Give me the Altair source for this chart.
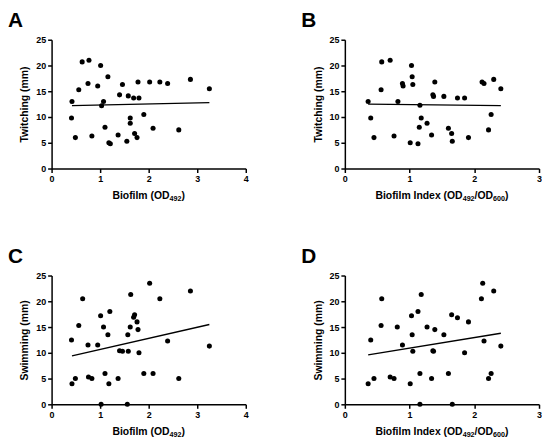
import altair as alt
import pandas as pd

# Panel A: Biofilm (OD492) vs Twitching
A_x = [0.63,0.77,1.01,1.16,0.75,0.95,0.56,1.46,1.78,2.02,2.23,2.39,2.86,3.25,0.42,1.07,1.03,1.40,1.58,1.69,1.80,0.41,1.62,1.62,1.90,1.10,2.09,2.62,0.49,0.83,1.37,1.71,1.76,1.18,1.21,1.55]
A_y = [20.7,21.0,20.0,17.8,16.5,16.0,15.3,16.3,16.8,16.8,16.8,16.5,17.3,15.5,13.0,13.0,12.2,14.3,14.1,13.7,13.7,9.8,9.8,8.8,10.5,8.0,7.8,7.5,6.0,6.3,6.5,6.8,6.0,5.0,4.8,5.3]
A_fit_x = [0.42, 3.25]
A_fit_y = [12.2, 12.8]
# Panel B: Biofilm Index vs Twitching
B_x = [0.57,0.70,1.03,1.04,0.89,0.90,1.05,0.56,1.39,2.12,2.15,2.30,2.41,0.36,0.82,1.16,1.36,1.37,1.53,1.74,1.85,0.40,1.18,1.27,1.15,2.26,1.60,2.22,0.45,0.76,1.34,1.65,1.91,1.01,1.13,1.66]
B_y = [20.7,21.0,20.0,17.8,16.5,16.0,16.3,15.3,16.8,16.8,16.5,17.3,15.5,13.0,13.0,12.3,14.3,14.0,14.0,13.7,13.7,9.8,9.8,8.8,8.0,10.5,7.8,7.5,6.0,6.3,6.5,6.8,6.0,5.0,4.8,5.3]
B_fit_x = [0.36, 2.41]
B_fit_y = [12.5, 12.2]
# Panel C: Biofilm (OD492) vs Swimming
C_x = [2.02,2.86,1.63,0.64,2.23,1.20,1.01,1.71,1.69,1.76,0.56,1.07,1.62,1.78,1.16,1.57,0.41,2.39,0.75,0.95,3.25,1.40,1.46,1.58,1.80,1.90,2.09,1.10,0.76,0.83,0.49,1.37,2.62,0.42,1.18,1.02,1.56]
C_y = [23.5,22.0,21.3,20.5,20.5,18.0,17.2,17.4,16.9,16.0,15.3,15.0,15.0,14.5,13.5,13.5,12.5,12.3,11.5,11.5,11.3,10.4,10.3,10.3,10.0,6.0,6.0,6.0,5.3,5.0,5.0,5.0,5.0,4.0,4.0,0.0,0.0]
C_fit_x = [0.42, 3.25]
C_fit_y = [9.4, 15.5]
# Panel D: Biofilm Index vs Swimming
D_x = [2.13,2.30,1.18,0.57,2.11,1.13,1.03,1.65,1.74,1.91,0.56,0.81,1.27,1.39,1.04,1.53,0.40,2.15,0.89,2.41,1.05,1.36,1.37,1.85,1.16,1.60,2.26,0.70,0.76,0.45,1.34,2.22,0.36,1.01,1.16,1.66]
D_y = [23.5,22.0,21.3,20.5,20.5,18.0,17.2,17.4,16.8,16.0,15.3,15.0,15.0,14.5,13.5,13.5,12.5,12.3,11.5,11.3,10.3,10.4,10.3,10.0,6.0,6.0,6.0,5.3,5.0,5.0,5.0,5.0,4.0,4.0,0.0,0.0]
D_fit_x = [0.36, 2.41]
D_fit_y = [9.6, 13.8]

Y_TICKS = [0, 5, 10, 15, 20, 25]
FONT = "Liberation Sans"
W, H = 196, 130
FS_TITLE, FS_SUB = 10.5, 7.2

# Arial/Liberation Sans Bold advance widths (per em)
ADV = {"B": .722, "i": .278, "o": .611, "f": .333, "l": .278, "m": .889, " ": .278,
       "(": .333, ")": .333, "O": .778, "D": .722, "I": .278, "n": .611, "d": .611,
       "e": .556, "x": .556, "/": .278}


def text_width(s, fs):
    return sum(ADV.get(c, .556) for c in s) * fs


def title_marks(segments):
    sizes = [FS_SUB if sub else FS_TITLE for _, sub in segments]
    total = sum(text_width(t, fs) for (t, _), fs in zip(segments, sizes))
    cur = W / 2 - total / 2
    out = []
    for (t, sub), fs in zip(segments, sizes):
        out.append(alt.Chart(pd.DataFrame({"t": [t]})).mark_text(
            font=FONT, fontSize=fs, fontWeight="bold", align="left",
            baseline="alphabetic", color="black").encode(
            x=alt.value(cur), y=alt.value(H + 31 + (2.2 if sub else 0)), text="t:N"))
        cur += text_width(t, fs)
    return out


def panel(xs, ys, fx, fy, letter, xsegs, ytitle, xmax):
    df = pd.DataFrame({"x": xs, "y": ys})
    xvals = list(range(xmax + 1))
    xenc = alt.X("x:Q", scale=alt.Scale(domain=[0, xmax], nice=False),
                 axis=alt.Axis(values=xvals, tickCount=len(xvals) + 2,
                               title=None, format="d", labelOverlap=False))
    yenc = alt.Y("y:Q", scale=alt.Scale(domain=[0, 25], nice=False),
                 axis=alt.Axis(values=Y_TICKS, tickCount=len(Y_TICKS) + 2, format="d",
                               title=ytitle, labelOverlap=False))
    pts = alt.Chart(df).mark_circle(size=26, color="black", opacity=1).encode(x=xenc, y=yenc)
    line = alt.Chart(pd.DataFrame({"x": fx, "y": fy})).mark_line(
        color="black", strokeWidth=1.4).encode(x=xenc, y=yenc)
    lab = alt.Chart(pd.DataFrame({"t": [letter]})).mark_text(
        font=FONT, fontSize=21, fontWeight="bold", align="left",
        baseline="top", color="black").encode(
        x=alt.value(-44), y=alt.value(-30), text="t:N")
    return alt.layer(pts, line, lab, *title_marks(xsegs)).properties(width=W, height=H)


t_twitch = "Twitching (mm)"
t_swim = "Swimming (mm)"
x1 = [("Biofilm (OD", False), ("492", True), (")", False)]
x2 = [("Biofilm Index (OD", False), ("492", True), ("/OD", False), ("600", True), (")", False)]

pA = panel(A_x, A_y, A_fit_x, A_fit_y, "A", x1, t_twitch, 4)
pB = panel(B_x, B_y, B_fit_x, B_fit_y, "B", x2, t_twitch, 3)
pC = panel(C_x, C_y, C_fit_x, C_fit_y, "C", x1, t_swim, 4)
pD = panel(D_x, D_y, D_fit_x, D_fit_y, "D", x2, t_swim, 3)

chart = alt.vconcat(
    alt.hconcat(pA, pB, spacing=53),
    alt.hconcat(pC, pD, spacing=53),
    spacing=43,
).properties(padding=0, background="white").configure_view(stroke=None).configure_axis(
    domainColor="black", domainWidth=1.5, tickColor="black", tickWidth=1.5, tickSize=4,
    grid=False, labelFont=FONT, labelFontSize=9, labelFontWeight="bold", labelColor="black",
    labelPadding=2, labelOverlap=False, labelFlush=False, labelBound=False,
    titleFont=FONT, titleFontSize=10.5, titleFontWeight="bold",
    titleColor="black", titlePadding=6,
)

chart.save("out.html", embed_options={"renderer": "svg", "actions": False})
